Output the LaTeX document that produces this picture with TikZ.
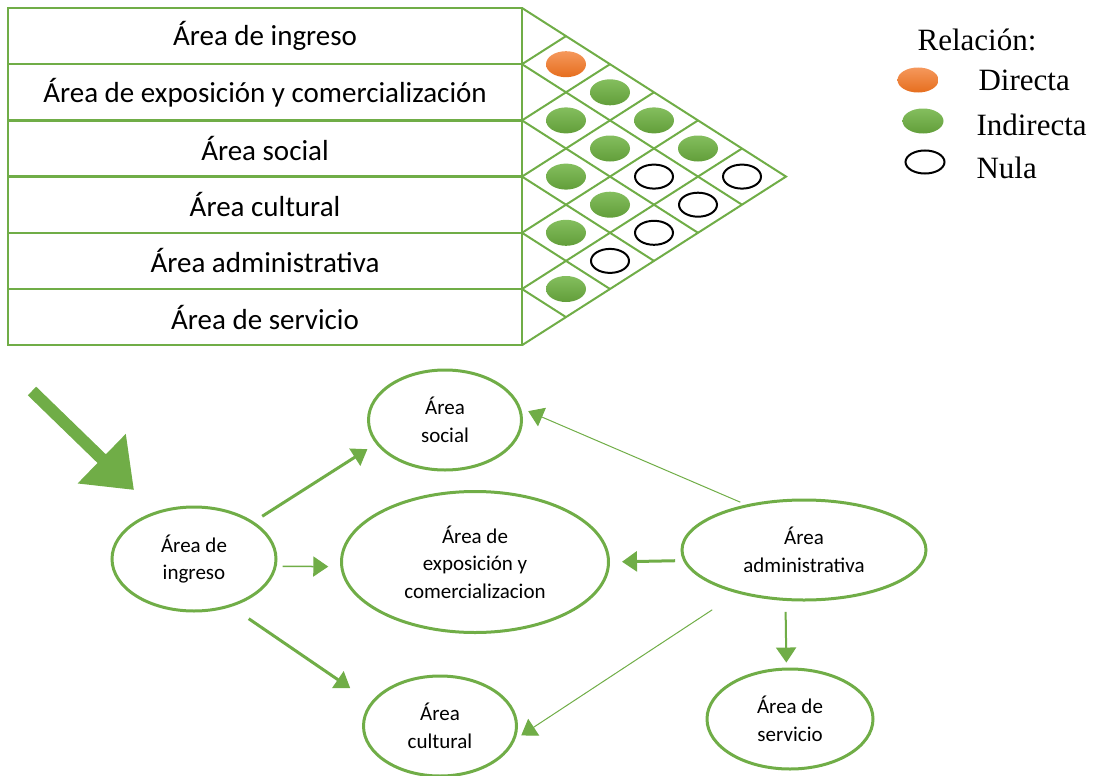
\documentclass[tikz,border=0pt]{standalone}
\usepackage{fontspec}
\setmainfont{Carlito}
\newfontfamily\legendfont{Liberation Serif}
\usepackage{tikz}
\usetikzlibrary{arrows.meta,shapes.geometric}
\definecolor{zonegreen}{RGB}{112,173,71}
\definecolor{zonegreenlight}{RGB}{132,190,94}
\definecolor{zonegreendark}{RGB}{98,158,58}
\definecolor{linkorange}{RGB}{237,125,49}
\definecolor{linkorangelight}{RGB}{245,152,92}
\definecolor{linkorangedark}{RGB}{230,110,30}

\begin{document}
\begin{tikzpicture}[x=1pt, y=-1pt, >=Latex,
    tableline/.style={draw=zonegreen, line width=2.5pt},
    roofline/.style={draw=zonegreen, line width=2pt},
    rowlabel/.style={font=\fontsize{29}{34}\selectfont},
    directa/.style={ellipse, inner sep=0pt, minimum width=40pt, minimum height=26pt,
      top color=linkorangelight, bottom color=linkorangedark},
    indirecta/.style={ellipse, inner sep=0pt, minimum width=40pt, minimum height=26pt,
      top color=zonegreenlight, bottom color=zonegreendark},
    nula/.style={ellipse, inner sep=0pt, minimum width=38pt, minimum height=24pt,
      draw=black, line width=2pt, fill=white},
    keytext/.style={anchor=west, font=\legendfont\fontsize{31}{36}\selectfont},
    zone/.style={ellipse, draw=zonegreen, line width=3pt, align=center, inner sep=0pt,
      font=\fontsize{21}{27.5}\selectfont},
    flow/.style={draw=zonegreen, -{Triangle[length=15pt, width=20pt]}},
  ]
    \useasboundingbox (0,0) rectangle (1095,776);

    % relation table
    \draw[tableline] (8,8) rectangle (522,345.2);
    \foreach \k in {1,...,5}
      \draw[tableline] (8,{8+56.2*\k}) -- (522,{8+56.2*\k});
    \foreach \name/\txt [count=\r] in {ingreso/Área de ingreso,
        expo/Área de exposición y comercialización, social/Área social,
        cultural/Área cultural, admin/Área administrativa, servicio/Área de servicio}
      \node[rowlabel] (row-\name) at (265,{8+56.2*(\r-0.5)}) {\txt};

    % roof grid
    \draw[roofline] (522,8) -- (786,176.6) -- (522,345.2);
    \foreach \k in {1,...,5} {
      \draw[roofline] (522,{8+56.2*\k}) -- ++({44*(6-\k)},{28.1*(6-\k)});
      \draw[roofline] (522,{8+56.2*\k}) -- ++({44*\k},{-28.1*\k});
    }
    \foreach \i/\j/\kind in {1/2/directa, 2/3/indirecta, 3/4/indirecta, 4/5/indirecta,
        5/6/indirecta, 1/3/indirecta, 2/4/indirecta, 3/5/indirecta, 4/6/nula,
        1/4/indirecta, 2/5/nula, 3/6/nula, 1/5/indirecta, 2/6/nula, 1/6/nula}
      \node[\kind] (rel-\i-\j) at ({522+44*(\j-\i)},{8+28.1*(\i+\j-1)}) {};

    % legend
    \node[font=\legendfont\fontsize{31}{36}\selectfont] (key-title) at (977,40) {Relación:};
    \node[directa, minimum width=41pt, minimum height=25pt] (key-directa) at (918,80) {};
    \node[indirecta, minimum width=41pt, minimum height=25pt] (key-indirecta) at (923,121) {};
    \node[nula, minimum width=39pt, minimum height=23pt] (key-nula) at (925,162) {};
    \node[keytext] (label-directa) at (975,80) {Directa};
    \node[keytext] (label-indirecta) at (973,125) {Indirecta};
    \node[keytext] (label-nula) at (973,168) {Nula};

    % entry arrow
    \coordinate (entry) at (32,391);
    \coordinate (entry-tip) at (134,490);
    \draw[zonegreen, line width=12pt, -{Triangle[length=45pt, width=66pt]}] (entry) -- (entry-tip);

    % zones
    \node[zone, minimum width=164pt, minimum height=104pt] (ingreso) at (194,559) {Área de\\ingreso};
    \node[zone, minimum width=153pt, minimum height=100pt] (social) at (445,420) {Área\\social};
    \node[zone, minimum width=267pt, minimum height=141pt] (expo) at (475,562) {Área de\\exposición y\\comercializacion};
    \node[zone, minimum width=153pt, minimum height=100pt] (cultural) at (440,726) {Área\\cultural};
    \node[zone, minimum width=244pt, minimum height=100pt] (admin) at (804,550) {Área\\administrativa};
    \node[zone, minimum width=166pt, minimum height=100pt] (servicio) at (790,719) {Área de\\servicio};

    \draw[flow, line width=3pt, shorten <=10pt, shorten >=10pt] (ingreso.32.5) -- (social.199);
    \draw[flow, line width=1.5pt, shorten <=6pt, shorten >=12pt] (ingreso.-5) -- (expo.182);
    \draw[flow, line width=3pt, shorten <=21pt, shorten >=25pt] (ingreso.-52) -- (cultural.161);
    \draw[flow, line width=1pt, shorten <=6pt, shorten >=8pt] (admin.142) -- (social.9);
    \draw[flow, line width=1pt, shorten <=30pt, shorten >=7pt] (admin.213) -- (cultural.-10);
    \draw[flow, line width=3pt, shorten <=8pt, shorten >=12pt] (admin.185.5) -- (expo.0);
    \draw[flow, line width=2pt, shorten <=11pt, shorten >=5pt] (admin.-110.5) -- (servicio.94.5);
  \end{tikzpicture}
\end{document}
